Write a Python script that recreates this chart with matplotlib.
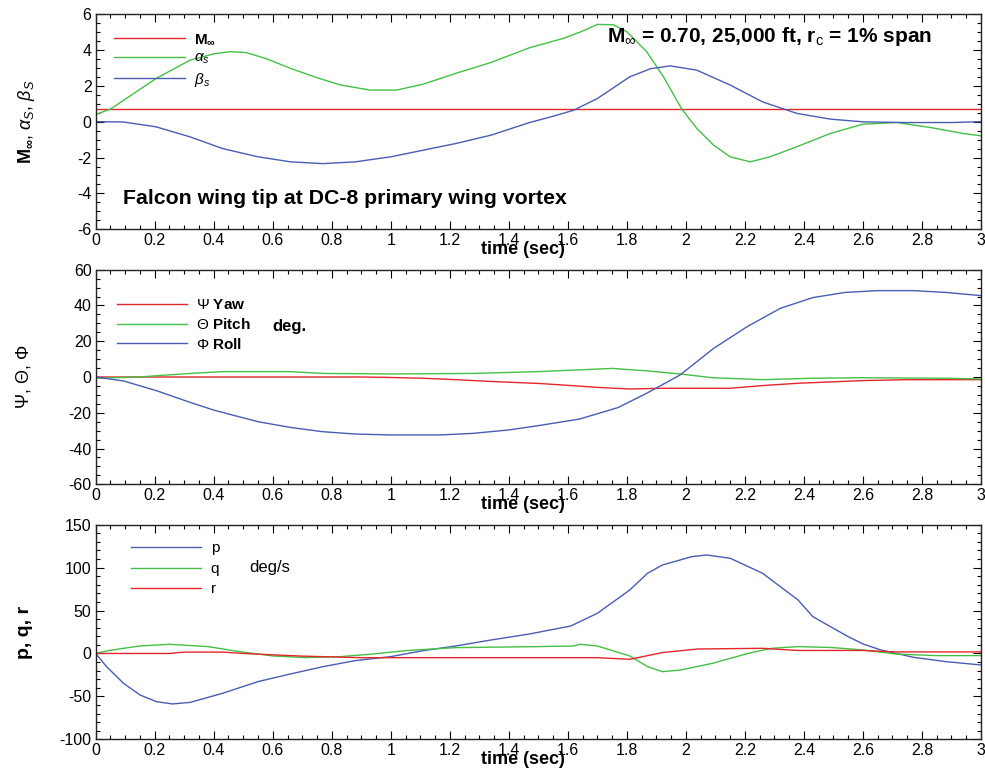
import matplotlib
matplotlib.use("Agg")
import matplotlib.pyplot as plt
from matplotlib.ticker import MultipleLocator, FuncFormatter

plt.rcParams['font.family'] = ['Liberation Sans', 'DejaVu Sans']
plt.rcParams['mathtext.fontset'] = 'custom'
plt.rcParams['mathtext.rm'] = 'Liberation Sans'
plt.rcParams['mathtext.it'] = 'Liberation Sans:italic'
plt.rcParams['mathtext.bf'] = 'Liberation Sans:bold'

RED = '#e3262c'
GREEN = '#44c044'
BLUE = '#4a5cb4'

# ---- panel 1: Mach, sideslip-frame angles ----
mach_t = [0.0, 3.0]
mach = [0.70, 0.70]

alpha_t = [0.0, 0.05, 0.10, 0.205, 0.32, 0.40, 0.456, 0.51, 0.58, 0.66, 0.75, 0.83,
           0.93, 1.02, 1.11, 1.22, 1.34, 1.47, 1.585, 1.65, 1.70, 1.754, 1.80, 1.867,
           1.924, 1.986, 2.037, 2.094, 2.15, 2.218, 2.285, 2.376, 2.489, 2.60, 2.715,
           2.83, 2.94, 3.0]
alpha_s = [0.40, 0.70, 1.25, 2.41, 3.43, 3.78, 3.90, 3.85, 3.50, 2.97, 2.45, 2.04,
           1.76, 1.76, 2.09, 2.69, 3.30, 4.12, 4.64, 5.05, 5.42, 5.40, 5.01, 3.90,
           2.50, 0.70, -0.38, -1.31, -1.96, -2.24, -1.96, -1.40, -0.66, -0.14, -0.05,
           -0.33, -0.66, -0.79]

beta_t = [0.0, 0.094, 0.205, 0.32, 0.43, 0.55, 0.66, 0.77, 0.88, 1.0, 1.11, 1.22,
          1.34, 1.47, 1.55, 1.62, 1.70, 1.81, 1.88, 1.947, 2.037, 2.15, 2.26, 2.376,
          2.49, 2.60, 2.75, 2.90, 3.0]
beta_s = [0.0, -0.02, -0.29, -0.85, -1.50, -1.96, -2.24, -2.34, -2.24, -1.96, -1.59,
          -1.22, -0.75, -0.05, 0.30, 0.64, 1.29, 2.50, 2.95, 3.11, 2.87, 2.04, 1.10,
          0.46, 0.14, -0.01, -0.05, -0.05, 0.0]

# ---- panel 2: Euler angles (deg) ----
roll_t = [0.0, 0.094, 0.205, 0.32, 0.40, 0.55, 0.66, 0.77, 0.88, 1.0, 1.17, 1.28,
          1.40, 1.50, 1.64, 1.77, 1.867, 1.98, 2.094, 2.207, 2.32, 2.43, 2.54, 2.65,
          2.77, 2.88, 3.0]
roll = [0.0, -2.2, -7.6, -14.2, -18.5, -25.0, -28.2, -30.6, -31.9, -32.4, -32.4,
        -31.5, -29.6, -27.2, -23.5, -17.1, -9.1, 1.1, 16.0, 28.1, 38.4, 44.4, 47.3,
        48.3, 48.3, 47.3, 45.5]

pitch_t = [0.0, 0.15, 0.205, 0.32, 0.43, 0.66, 0.77, 1.0, 1.28, 1.50, 1.75, 1.87,
           1.98, 2.09, 2.26, 2.43, 2.60, 2.88, 3.0]
pitch = [-0.7, 0.0, 0.7, 2.0, 3.0, 3.0, 2.0, 1.7, 2.0, 3.0, 4.8, 3.4,
         1.7, -0.4, -1.5, -0.7, -0.4, -0.7, -1.1]

yaw_t = [0.0, 0.5, 0.9, 0.98, 1.11, 1.22, 1.34, 1.50, 1.585, 1.70, 1.81, 1.92,
         2.15, 2.26, 2.38, 2.60, 2.75, 3.0]
yaw = [0.0, 0.0, 0.0, -0.2, -0.7, -1.5, -2.5, -3.6, -4.5, -5.8, -6.7, -6.3,
       -6.3, -4.8, -3.5, -2.0, -1.5, -1.5]

# ---- panel 3: body rates (deg/s) ----
p_t = [0.0, 0.037, 0.094, 0.15, 0.205, 0.26, 0.32, 0.43, 0.55, 0.66, 0.77, 0.88,
       1.0, 1.11, 1.22, 1.34, 1.47, 1.61, 1.70, 1.81, 1.87, 1.92, 2.02, 2.07, 2.15,
       2.26, 2.38, 2.43, 2.49, 2.55, 2.60, 2.66, 2.77, 2.88, 3.0]
p = [0.0, -15.4, -34.7, -48.3, -56.1, -58.8, -57.0, -46.4, -32.8, -23.9, -15.4,
     -8.3, -3.7, 3.3, 8.7, 15.7, 22.7, 32.0, 46.8, 74.0, 93.4, 103.0, 112.8, 114.7,
     110.9, 93.4, 62.3, 42.9, 31.2, 19.6, 11.1, 4.1, -4.4, -9.5, -13.4]

q_t = [0.0, 0.037, 0.094, 0.15, 0.25, 0.38, 0.49, 0.60, 0.71, 0.83, 0.94, 1.05,
       1.22, 1.50, 1.62, 1.64, 1.70, 1.81, 1.87, 1.92, 1.98, 2.09, 2.21, 2.29, 2.38,
       2.49, 2.60, 2.71, 2.85, 3.0]
q = [0.0, 2.9, 6.0, 8.7, 10.7, 8.0, 2.0, -2.9, -4.8, -3.7, -0.6, 3.3,
     6.8, 8.0, 8.7, 10.7, 8.7, -2.9, -15.4, -21.2, -19.4, -11.5, 0.0, 6.0, 8.0,
     7.0, 4.1, -0.6, -2.5, -2.5]

r_t = [0.0, 0.25, 0.30, 0.43, 0.50, 0.60, 0.70, 0.90, 1.47, 1.70, 1.81, 1.92,
       2.04, 2.26, 2.38, 2.60, 2.71, 3.0]
r = [0.0, 0.0, 1.6, 1.6, 0.0, -1.6, -3.1, -4.9, -4.9, -4.9, -6.8, 1.0,
     5.2, 6.0, 3.5, 3.5, 1.8, 1.8]

x_ticks_major = 0.2
x_ticks_minor = 0.05

W, H = 985, 769
fig = plt.figure(figsize=(W / 100, H / 100), dpi=100)

left = 95.7 / W
width = (981 - 95.7) / W


def panel(top_px, bottom_px):
    return fig.add_axes([left, 1 - bottom_px / H, width, (bottom_px - top_px) / H])


ax1 = panel(14.0, 229.3)
ax2 = panel(269.7, 484.3)
ax3 = panel(524.7, 739.3)

lw = 1.0
fmt = FuncFormatter(lambda v, pos: '%g' % round(v, 6))

ax1.plot(mach_t, mach, color=RED, lw=lw, label=r'$\mathbf{M_\infty}$')
ax1.plot(alpha_t, alpha_s, color=GREEN, lw=lw, label=r'$\alpha_s$')
ax1.plot(beta_t, beta_s, color=BLUE, lw=lw, label=r'$\beta_s$')
ax1.set_ylim(-6, 6)
ax1.yaxis.set_major_locator(MultipleLocator(2))
ax1.yaxis.set_minor_locator(MultipleLocator(0.5))

ax2.plot(yaw_t, yaw, color=RED, lw=lw, label=r'$\Psi$ $\mathbf{Yaw}$')
ax2.plot(pitch_t, pitch, color=GREEN, lw=lw, label=r'$\Theta$ $\mathbf{Pitch}$')
ax2.plot(roll_t, roll, color=BLUE, lw=lw, label=r'$\Phi$ $\mathbf{Roll}$')
ax2.set_ylim(-60, 60)
ax2.yaxis.set_major_locator(MultipleLocator(20))
ax2.yaxis.set_minor_locator(MultipleLocator(5))

ax3.plot(p_t, p, color=BLUE, lw=lw, label='p')
ax3.plot(q_t, q, color=GREEN, lw=lw, label='q')
ax3.plot(r_t, r, color=RED, lw=lw, label='r')
ax3.set_ylim(-100, 150)
ax3.yaxis.set_major_locator(MultipleLocator(50))
ax3.yaxis.set_minor_locator(MultipleLocator(10))

for ax in (ax1, ax2, ax3):
    ax.set_xlim(0, 3)
    ax.xaxis.set_major_locator(MultipleLocator(x_ticks_major))
    ax.xaxis.set_minor_locator(MultipleLocator(x_ticks_minor))
    ax.xaxis.set_major_formatter(fmt)
    ax.yaxis.set_major_formatter(fmt)
    ax.tick_params(which='both', direction='in', top=True, right=True, labelsize=11.5)
    ax.tick_params(which='major', length=6, width=0.8, pad=3)
    ax.tick_params(which='minor', length=3, width=0.8)
    for s in ax.spines.values():
        s.set_linewidth(1.0)
        s.set_color('#222222')
    ax.text(0.483, -0.092, 'time (sec)', transform=ax.transAxes, ha='center',
            va='center', fontsize=13, fontweight='bold')

ax1.set_ylabel(r'$\mathbf{M_\infty}$, $\alpha_S$, $\beta_S$', fontsize=13)
ax2.set_ylabel(r'$\Psi$, $\Theta$, $\Phi$', fontsize=13)
ax3.set_ylabel('p, q, r', fontsize=14, fontweight='bold')
ax1.yaxis.set_label_coords(-0.066, 0.5)
ax2.yaxis.set_label_coords(-0.071, 0.5)
ax3.yaxis.set_label_coords(-0.071, 0.5)

leg_kw = dict(loc='upper left', frameon=False, borderaxespad=0, borderpad=0,
              handlelength=4.6, handletextpad=0.6,
              prop={'family': 'Liberation Sans', 'size': 11})
ax1.legend(bbox_to_anchor=(0.021, 0.915), labelspacing=0.28, **leg_kw)
ax2.legend(bbox_to_anchor=(0.024, 0.868), labelspacing=0.32, **leg_kw)
ax3.legend(bbox_to_anchor=(0.040, 0.922), labelspacing=0.42, **leg_kw)

ax2.text(0.20, 0.733, 'deg.', transform=ax2.transAxes, fontsize=12,
         fontweight='bold', va='center')
ax3.text(0.173, 0.80, 'deg/s', transform=ax3.transAxes, fontsize=12,
         va='center')

ax1.text(0.578, 0.895, r'M$_\infty$ = 0.70, 25,000 ft, r$_\mathrm{c}$ = 1% span',
         transform=ax1.transAxes, fontsize=15, fontweight='bold', va='center')
ax1.text(0.031, 0.144, 'Falcon wing tip at DC-8 primary wing vortex',
         transform=ax1.transAxes, fontsize=15.3, fontweight='bold', va='center')

fig.savefig('out.png', dpi=100)
